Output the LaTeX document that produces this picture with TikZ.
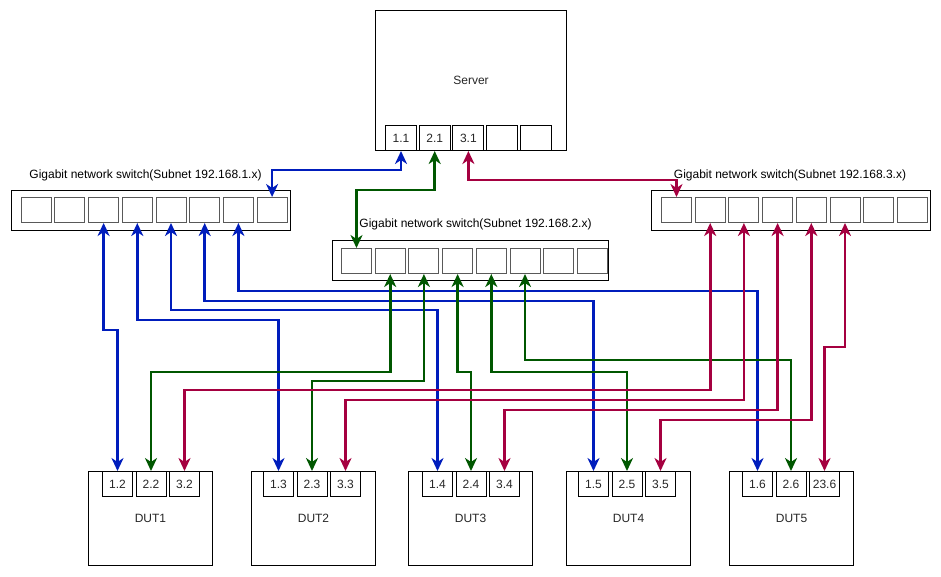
\documentclass[tikz,border=0pt]{standalone}
\usepackage{fontspec}
\setmainfont{Liberation Sans}
\usetikzlibrary{arrows.meta,positioning}
\definecolor{netblue}{HTML}{001DBC}
\definecolor{netgreen}{HTML}{005700}
\definecolor{netred}{HTML}{A50040}

\begin{document}
\begin{tikzpicture}[x=1pt,y=-1pt,font=\fontsize{12}{14}\selectfont,
  >={Stealth[length=13pt,width=12pt,inset=4pt]},
  box/.style={draw=black,line width=1pt,inner sep=0pt,anchor=north west,
    text=black!85},
  port/.style={draw=black,line width=1pt,inner sep=0pt,anchor=north west,
    minimum width=30pt,minimum height=25pt,text=black!85},
  swport/.style={port,draw=black!65},
  bw/.style={<->,line width=2.6pt,draw=netblue},
  gw/.style={<->,line width=2.6pt,draw=netgreen},
  rw/.style={<->,line width=2.6pt,draw=netred}]

  \useasboundingbox (0,0) rectangle (941,576);

  \node[box,minimum width=191pt,minimum height=140pt] (srv) at (375,10) {Server};
  \foreach \i/\t in {1/1.1,2/2.1,3/3.1,4/,5/}
    \node[port,minimum width=31pt] (srv\i) at ({385+33.7*(\i-1)},125) {\t};

  \node[box,minimum width=279pt,minimum height=40pt] (sw1) at (11,190) {};
  \node[box,minimum width=276pt,minimum height=40pt] (sw2) at (332,240) {};
  \node[box,minimum width=279pt,minimum height=40pt] (sw3) at (651,190) {};
  \foreach \s/\x/\y in {1/20.7/197,2/341/248,3/661/197}
    \foreach \i in {1,...,8}
      \node[swport] (sw\s p\i) at ({\x+33.7*(\i-1)},\y) {};
  \node (sw1lbl) at (145.5,175) {Gigabit network switch(Subnet 192.168.1.x)};
  \node (sw2lbl) at (475.5,224) {Gigabit network switch(Subnet 192.168.2.x)};
  \node (sw3lbl) at (790,175) {Gigabit network switch(Subnet 192.168.3.x)};

  \foreach \n/\x/\p/\ta/\tb/\tc in {1/88/102/1.2/2.2/3.2,2/251/263/1.3/2.3/3.3,
      3/408/422/1.4/2.4/3.4,4/566/578/1.5/2.5/3.5,5/729/742/1.6/2.6/23.6} {
    \node[box,minimum width=124pt,minimum height=94pt] (dut\n) at (\x,471) {DUT\n};
    \node[port] (dut\n p1) at (\p,471) {\ta};
    \node[port] (dut\n p2) at (\p+33.5,471) {\tb};
    \node[port] (dut\n p3) at (\p+67,471) {\tc};
  }

  \draw[bw] (srv1.south) -- (srv1.south |- 0,170) -| (sw1p8.north);
  \draw[gw] (srv2.south) -- (srv2.south |- 0,190) -| (sw2p1.north);
  \draw[rw] (srv3.south) -- (srv3.south |- 0,180) -| (sw3p1.north);

  \foreach \s/\u/\y in {3/1/330,4/2/320,5/3/310,6/4/301,7/5/291}
    \draw[bw] (sw1p\s.south) -- (sw1p\s.south |- 0,\y) -| (dut\u p1.north);
  \foreach \s/\u/\y in {2/1/372,3/2/381,4/3/372,5/4/372,6/5/360}
    \draw[gw] (sw2p\s.south) -- (sw2p\s.south |- 0,\y) -| (dut\u p2.north);
  \foreach \s/\u/\y in {2/1/390,3/2/400,4/3/410,5/4/420,6/5/347}
    \draw[rw] (sw3p\s.south) -- (sw3p\s.south |- 0,\y) -| (dut\u p3.north);
\end{tikzpicture}
\end{document}
